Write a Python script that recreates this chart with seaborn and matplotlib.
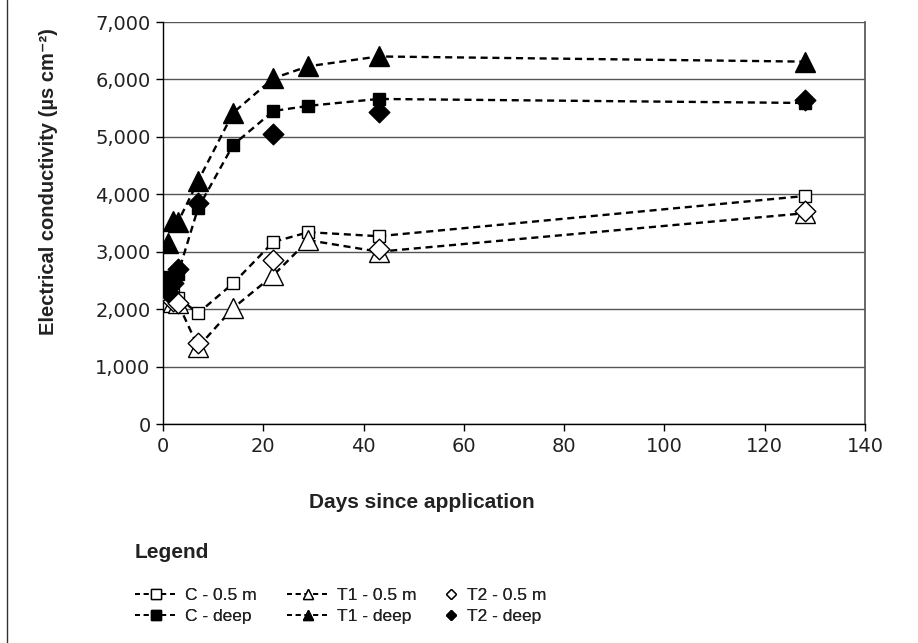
import numpy as np
import pandas as pd
import seaborn as sns
import matplotlib
matplotlib.use('Agg')
import matplotlib.pyplot as plt
from matplotlib.lines import Line2D
from matplotlib.ticker import FuncFormatter

sns.set_theme(style="white")
plt.rcParams['font.family'] = ['Liberation Sans', 'DejaVu Sans']

days = [1, 2, 3, 7, 14, 22, 29, 43, 128]
c_shallow = [2200, 2250, 2200, 1930, 2450, 3170, 3340, 3270, 3970]
c_deep = [2560, 2480, 2620, 3760, 4860, 5450, 5540, 5660, 5590]
t1_shallow = [2150, 2120, 2100, 1340, 2020, 2590, 3200, 3000, 3670]
t1_deep = [3150, 3540, 3520, 4230, 5420, 6020, 6230, 6400, 6310]

days_t2 = [1, 2, 3, 7, 22, 43, 128]
t2_shallow = [2250, 2150, 2100, 1410, 2860, 3050, 3710]
t2_deep = [2300, 2450, 2700, 3850, 5050, 5430, 5640]

bold_font = ['Liberation Sans Narrow', 'Liberation Sans', 'DejaVu Sans']

fig = plt.figure(figsize=(9.18, 6.43), dpi=100)
ax = fig.add_axes([163 / 918, 1 - 424 / 643, 702 / 918, 402 / 643])

line_kw = dict(color='black', linestyle=(0, (3, 2)), linewidth=1.7,
               markeredgecolor='black', markeredgewidth=1.0)

sns.lineplot(x=days, y=c_shallow, ax=ax, marker='s', markersize=8,
             markerfacecolor='white', **line_kw)
sns.lineplot(x=days, y=t1_shallow, ax=ax, marker='^', markersize=14,
             markerfacecolor='white', **line_kw)
sns.lineplot(x=days, y=c_deep, ax=ax, marker='s', markersize=8,
             markerfacecolor='black', **line_kw)
sns.lineplot(x=days, y=t1_deep, ax=ax, marker='^', markersize=14,
             markerfacecolor='black', **line_kw)
sns.scatterplot(x=days_t2, y=t2_shallow, ax=ax, marker='D', s=110,
                facecolor='white', edgecolor='black', linewidth=1.0, zorder=3)
sns.scatterplot(x=days_t2, y=t2_deep, ax=ax, marker='D', s=110,
                facecolor='black', edgecolor='black', linewidth=1.0, zorder=3)

ax.set_xlim(0, 140)
ax.set_ylim(0, 7000)
ax.set_xticks(range(0, 141, 20))
ax.set_yticks(range(0, 7001, 1000))
ax.yaxis.set_major_formatter(FuncFormatter(lambda v, p: f"{int(v):,}"))
ax.grid(axis='y', color='#555555', linewidth=1.0)
ax.set_axisbelow(True)
for side in ['left', 'bottom']:
    ax.spines[side].set_color('black')
    ax.spines[side].set_linewidth(1.0)
ax.spines['right'].set_color('#555555')
ax.spines['top'].set_visible(False)
ax.tick_params(axis='both', which='both', direction='out', length=5, width=1,
               color='black', labelsize=14, labelcolor='#222222', pad=4,
               left=True, bottom=True)
for lab in ax.get_xticklabels() + ax.get_yticklabels():
    lab.set_family('DejaVu Sans')

ax.set_xlabel("Days since application", fontsize=15, fontweight='bold',
              family=bold_font, color='#222222')
ax.set_ylabel("Electrical conductivity (µs cm\u207b\u00b2)", fontsize=14.5,
              fontweight='bold', family=bold_font, color='#222222')
ax.xaxis.set_label_coords(0.369, -0.172)
ax.yaxis.set_label_coords(-0.15, 0.604)

# legend, one block per column
fig.text(135 / 918, 1 - 552 / 643, "Legend", fontsize=15, fontweight='bold',
         family=bold_font, color='#222222', va='center', ha='left')

hk = dict(color='black', linestyle=(0, (2.5, 2.0)), linewidth=1.4,
          markeredgecolor='black', markersize=7)
leg_prop = {'family': bold_font, 'size': 12.5}
columns = [
    (128, [Line2D([], [], marker='s', markerfacecolor='white', **hk),
           Line2D([], [], marker='s', markerfacecolor='black', **hk)],
     ["C - 0.5 m", "C - deep"], 2.4),
    (280, [Line2D([], [], marker='^', markerfacecolor='white', **hk),
           Line2D([], [], marker='^', markerfacecolor='black', **hk)],
     ["T1 - 0.5 m", "T1 - deep"], 2.4),
    (437, [Line2D([], [], marker='D', linestyle='none', markerfacecolor='white',
                  markeredgecolor='black', markersize=5),
           Line2D([], [], marker='D', linestyle='none', markerfacecolor='black',
                  markeredgecolor='black', markersize=5)],
     ["T2 - 0.5 m", "T2 - deep"], 0.8),
]
for xpos, hs, ls, hl in columns:
    leg = fig.legend(hs, ls, ncol=1, loc='upper left',
                     bbox_to_anchor=(xpos / 918, 1 - 581 / 643), frameon=False,
                     handlelength=hl, handletextpad=0.5, labelspacing=0.35,
                     prop=leg_prop, labelcolor='#222222', borderaxespad=0)
    fig.add_artist(leg)

fig.add_artist(Line2D([7 / 918, 7 / 918], [0, 1], color='#333333', linewidth=1.0))

fig.savefig('out.png', dpi=100)
